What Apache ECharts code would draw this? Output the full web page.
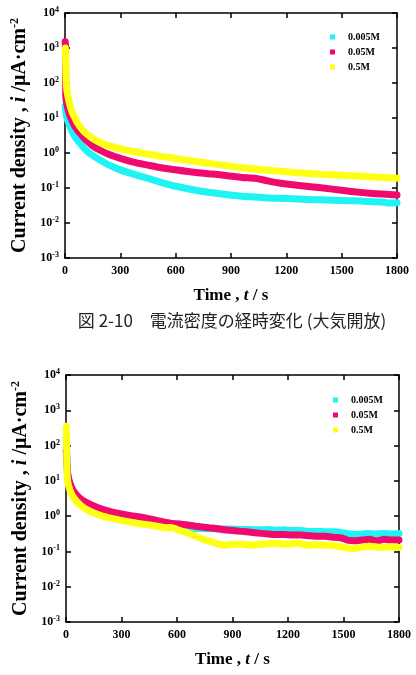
<!DOCTYPE html>
<html><head><meta charset="utf-8">
<script src="https://cdn.jsdelivr.net/npm/echarts@6/dist/echarts.min.js"></script>
<style>html,body{margin:0;padding:0;background:#fff}#c{width:416px;height:675px}</style>
</head><body><div id="c"></div>
<script>
// Legend / series names
const seriesNames = ['0.005M', '0.05M', '0.5M'];
const xTicks = [0, 300, 600, 900, 1200, 1500, 1800];
const yTicks = [1e-3, 1e-2, 1e-1, 1, 10, 100, 1000, 10000];

// Upper chart (大気開放): [time s, current density µA/cm²]
const topC005 = [[1,22],[5,14],[10,10],[18,7.5],[27,5.8],[40,4],[50,3.1],[65,2.4],[81,1.9],[100,1.45],[120,1.12],[150,0.85],[190,0.63],[240,0.45],[300,0.33],[370,0.25],[450,0.19],[520,0.145],[600,0.112],[700,0.088],[800,0.073],[880,0.064],[958,0.058],[1030,0.055],[1100,0.052],[1200,0.05],[1319,0.047],[1400,0.046],[1500,0.044],[1580,0.043],[1650,0.041],[1720,0.04],[1760,0.037],[1800,0.038]];
const topC05 = [[1,1500],[3,1100],[4,45],[8,28],[14,20],[20,15],[27,11.5],[40,8],[50,6.2],[65,4.7],[81,3.7],[100,2.8],[120,2.2],[150,1.6],[190,1.2],[240,0.9],[300,0.7],[370,0.55],[450,0.45],[520,0.38],[600,0.33],[700,0.28],[800,0.25],[880,0.225],[958,0.2],[1030,0.19],[1100,0.16],[1139,0.145],[1200,0.13],[1319,0.11],[1400,0.1],[1500,0.086],[1580,0.077],[1650,0.071],[1720,0.067],[1800,0.063]];
const topC5 = [[1,700],[2,1000],[3,600],[5,170],[8,80],[12,55],[18,36],[27,23],[40,14],[50,11],[65,7.5],[81,5.7],[100,4.3],[120,3.4],[150,2.6],[190,2.0],[240,1.6],[300,1.32],[370,1.1],[450,0.93],[520,0.8],[600,0.7],[700,0.58],[800,0.49],[880,0.43],[958,0.38],[1030,0.35],[1100,0.32],[1200,0.29],[1319,0.26],[1400,0.245],[1500,0.23],[1580,0.22],[1650,0.21],[1720,0.2],[1800,0.19]];

// Lower chart: [time s, current density µA/cm²]
const botC005 = [[1,160],[3,100],[6,25],[10,14],[22,7.5],[40,4.6],[76,2.8],[120,2.0],[184,1.45],[240,1.2],[292,1.05],[350,0.95],[400,0.86],[460,0.76],[508,0.66],[560,0.56],[616,0.5],[660,0.45],[700,0.45],[770,0.44],[820,0.44],[859,0.43],[900,0.43],[950,0.42],[1000,0.42],[1040,0.41],[1090,0.42],[1130,0.4],[1180,0.41],[1220,0.39],[1270,0.39],[1310,0.37],[1360,0.37],[1400,0.36],[1450,0.36],[1490,0.34],[1530,0.31],[1578,0.3],[1620,0.32],[1670,0.31],[1720,0.32],[1760,0.31],[1800,0.32]];
const botC05 = [[1,70],[3,60],[6,28],[10,15],[22,8.5],[40,5.2],[76,3.2],[120,2.3],[184,1.65],[240,1.35],[292,1.17],[350,1.03],[400,0.95],[460,0.82],[508,0.72],[540,0.66],[570,0.62],[616,0.6],[660,0.56],[700,0.52],[770,0.47],[820,0.44],[859,0.41],[900,0.39],[950,0.37],[1000,0.35],[1040,0.33],[1090,0.31],[1130,0.3],[1180,0.3],[1220,0.29],[1270,0.29],[1310,0.28],[1360,0.27],[1400,0.27],[1450,0.25],[1490,0.24],[1520,0.21],[1560,0.2],[1600,0.21],[1640,0.22],[1680,0.2],[1720,0.22],[1760,0.21],[1800,0.21]];
const botC5 = [[1,300],[2,350],[4,60],[6,16],[10,9],[22,5.3],[40,3.4],[76,2.1],[120,1.45],[184,1.05],[240,0.88],[292,0.77],[350,0.67],[400,0.61],[460,0.55],[508,0.5],[540,0.47],[570,0.48],[600,0.42],[650,0.34],[700,0.27],[740,0.22],[770,0.2],[820,0.165],[859,0.15],[900,0.16],[950,0.16],[1000,0.15],[1060,0.16],[1130,0.17],[1200,0.16],[1250,0.17],[1310,0.15],[1360,0.155],[1400,0.15],[1450,0.145],[1490,0.135],[1540,0.12],[1578,0.125],[1640,0.14],[1700,0.13],[1760,0.135],[1800,0.13]];

const colors = ['#1ff3f3', '#f00a6e', '#ffff14'];
const serif = '"Liberation Serif", "Times New Roman", serif';

const grids = [
  {left: 65, top: 13, width: 332, height: 245},
  {left: 66, top: 375, width: 333, height: 247}
];

function yLabel(v) {
  const e = Math.round(Math.log10(v));
  return '{b|10}{s|' + e + '}';
}
const yRich = {
  b: {fontSize: 12, fontWeight: 'bold', fontFamily: serif, color: '#000', lineHeight: 14},
  s: {fontSize: 8, fontWeight: 'bold', fontFamily: serif, color: '#000', verticalAlign: 'top', lineHeight: 8}
};

const xAxes = [], yAxes = [], legends = [], series = [];
const data = [[topC005, topC05, topC5], [botC005, botC05, botC5]];
grids.forEach((g, gi) => {
  const lineStyle = {color: '#000', width: 1.5};
  xAxes.push({
    type: 'value', gridIndex: gi, min: xTicks[0], max: xTicks[xTicks.length - 1], interval: 300,
    name: '{a|Time , }{i|t}{a| / s}', nameLocation: 'middle', nameGap: 29,
    nameTextStyle: {rich: {
      a: {fontSize: 17, fontWeight: 'bold', fontFamily: serif, color: '#000'},
      i: {fontSize: 17, fontWeight: 'bold', fontStyle: 'italic', fontFamily: serif, color: '#000'}
    }},
    axisLine: {show: true, onZero: false, lineStyle},
    axisTick: {inside: true, length: 5, lineStyle},
    axisLabel: {margin: 7, fontSize: 12, fontWeight: 'bold', fontFamily: serif, color: '#000',
      formatter: v => String(v)},
    splitLine: {show: false}
  });
  xAxes.push({
    type: 'value', gridIndex: gi, position: 'top', min: 0, max: 1800, interval: 300,
    axisLine: {show: true, onZero: false, lineStyle},
    axisTick: {inside: true, length: 5, lineStyle},
    axisLabel: {show: false}, splitLine: {show: false}
  });
  yAxes.push({
    type: 'log', logBase: 10, gridIndex: gi, min: yTicks[0], max: yTicks[yTicks.length - 1], splitNumber: 7,
    name: '{a|Current density , }{i|i}{a| /μA·cm}{s|-2}', nameLocation: 'middle', nameGap: 33, nameRotate: 90,
    nameTextStyle: {rich: {
      a: {fontSize: 20, fontWeight: 'bold', fontFamily: serif, color: '#000', lineHeight: 22},
      i: {fontSize: 20, fontWeight: 'bold', fontStyle: 'italic', fontFamily: serif, color: '#000', lineHeight: 22},
      s: {fontSize: 12, fontWeight: 'bold', fontFamily: serif, color: '#000', verticalAlign: 'top', lineHeight: 12}
    }},
    axisLine: {show: true, onZero: false, lineStyle},
    axisTick: {inside: true, length: 5, lineStyle},
    axisLabel: {margin: 6, formatter: yLabel, rich: yRich},
    splitLine: {show: false}
  });
  yAxes.push({
    type: 'log', logBase: 10, gridIndex: gi, position: 'right', min: 1e-3, max: 1e4, splitNumber: 7,
    axisLine: {show: true, onZero: false, lineStyle},
    axisTick: {inside: true, length: 5, lineStyle},
    axisLabel: {show: false}, splitLine: {show: false}
  });
  legends.push({
    left: gi === 0 ? 325 : 328, top: gi === 0 ? 27 : 390, orient: 'vertical',
    icon: 'rect', itemWidth: 5, itemHeight: 5, itemGap: 5,
    data: seriesNames,
    textStyle: {fontSize: 10, fontWeight: 'bold', fontFamily: serif, color: '#000', padding: [0, 0, 0, 8]}
  });
  seriesNames.forEach((n, si) => {
    series.push({
      name: n, type: 'line', xAxisIndex: gi * 2, yAxisIndex: gi * 2,
      data: data[gi][si], symbol: 'none', smooth: 0.2,
      lineStyle: {color: colors[si], width: 7, cap: 'round', join: 'round'},
      itemStyle: {color: colors[si]},
      animation: false
    });
  });
});

const chart = echarts.init(document.getElementById('c'), null, {renderer: 'canvas'});
chart.setOption({
  animation: false,
  backgroundColor: '#fff',
  grid: grids,
  xAxis: xAxes,
  yAxis: yAxes,
  legend: legends,
  title: {
    text: '図 2-10　電流密度の経時変化 (大気開放)',
    left: 227, top: 307, textAlign: 'center',
    textStyle: {fontSize: 17, fontWeight: 'normal', fontFamily: '"Noto Sans CJK JP", sans-serif', color: '#222'}
  },
  series
});
</script>
</body></html>
